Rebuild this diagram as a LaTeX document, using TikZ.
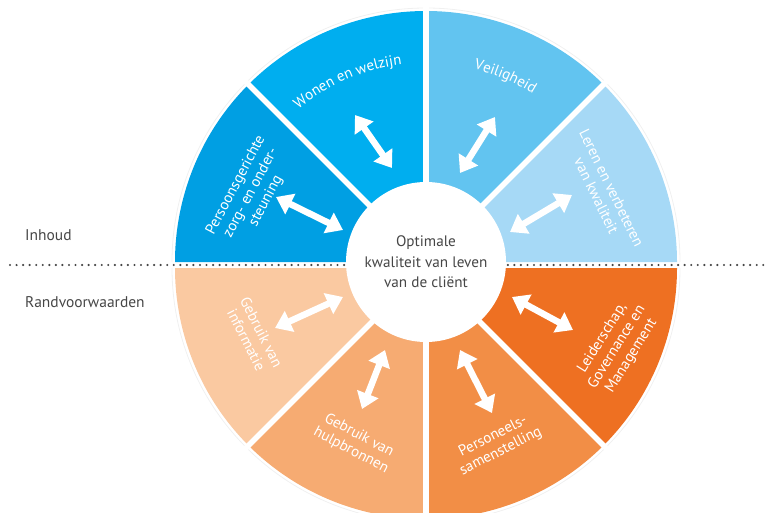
\documentclass[tikz,border=0pt]{standalone}
\usepackage{fontspec}
\setmainfont{PT Sans}
\usetikzlibrary{arrows.meta,decorations.text}
\definecolor{cLeren}{RGB}{166,217,246}
\definecolor{cVeilig}{RGB}{98,196,240}
\definecolor{cWonen}{RGB}{0,174,239}
\definecolor{cPersoon}{RGB}{0,159,227}
\definecolor{cInfo}{RGB}{250,201,161}
\definecolor{cHulp}{RGB}{246,171,114}
\definecolor{cPers}{RGB}{242,142,70}
\definecolor{cLeider}{RGB}{238,112,34}
\definecolor{textgray}{RGB}{70,70,70}
\begin{document}
\begin{tikzpicture}[x=1pt,y=1pt,
  lbl/.style={text=white,font=\fontsize{15}{17}\selectfont,align=center,inner sep=0pt},
  dbl/.style={white,line width=6.5pt,{Triangle[width=22pt,length=16pt]}-{Triangle[width=22pt,length=16pt]}},
  gapline/.style={white,line width=5.5pt},
  side/.style={text=textgray,font=\fontsize{15.5}{18}\selectfont,anchor=base west,inner sep=0pt},
  dotline/.style={textgray,line width=2.4pt,line cap=round,dash pattern=on 0pt off 6.55pt}]
\useasboundingbox (0,0) rectangle (765,512);
\coordinate (T) at (426,250);
\coordinate (B) at (426,244);
% top half
\fill[cLeren]   (T) -- ([shift={(T)}]0:251)   arc[start angle=0,end angle=45,radius=251] -- cycle;
\fill[cVeilig]  (T) -- ([shift={(T)}]45:251)  arc[start angle=45,end angle=90,radius=251] -- cycle;
\fill[cWonen]   (T) -- ([shift={(T)}]90:251)  arc[start angle=90,end angle=135,radius=251] -- cycle;
\fill[cPersoon] (T) -- ([shift={(T)}]135:251) arc[start angle=135,end angle=180,radius=251] -- cycle;
% bottom half
\fill[cInfo]   (B) -- ([shift={(B)}]180:251) arc[start angle=180,end angle=225,radius=251] -- cycle;
\fill[cHulp]   (B) -- ([shift={(B)}]225:251) arc[start angle=225,end angle=270,radius=251] -- cycle;
\fill[cPers]   (B) -- ([shift={(B)}]270:251) arc[start angle=270,end angle=315,radius=251] -- cycle;
\fill[cLeider] (B) -- ([shift={(B)}]315:251) arc[start angle=315,end angle=360,radius=251] -- cycle;
% faint outer ring
\draw[black!6,line width=0.8pt] ([shift={(T)}]0:254) arc[start angle=0,end angle=180,radius=254];
\draw[black!6,line width=0.8pt] ([shift={(B)}]180:254) arc[start angle=180,end angle=360,radius=254];
% gaps
\draw[gapline] (T) -- ++(45:260);
\draw[gapline] (T) -- ++(90:260);
\draw[gapline] (T) -- ++(135:260);
\draw[gapline] (B) -- ++(225:260);
\draw[gapline] (B) -- ++(270:260);
\draw[gapline] (B) -- ++(315:260);
% dotted separator
\coordinate (dl) at (10,247);
\coordinate (dr) at (765,247);
\draw[dotline] (dl) -- (dr);
% hub
\node[circle,fill=white,minimum size=160pt,inner sep=0pt,text=textgray,align=center,
  font=\fontsize{15.2}{20.5}\selectfont] (hub) at (426,250) {Optimale\\kwaliteit van leven\\van de cliënt};
% side labels
\node[side] (inhoud) at (25,272) {Inhoud};
\node[side] (rand) at (25,205) {Randvoorwaarden};
% curved labels
\path[decorate,decoration={text along path,text align=center,
  text={|\fontsize{15}{17}\selectfont\color{white}|Wonen en welzijn}}]
  ([shift={(T)}]148.4:199) arc[start angle=148.4,end angle=78.4,radius=199];
\path[decorate,decoration={text along path,text align=center,
  text={|\fontsize{15}{17}\selectfont\color{white}|Veiligheid}}]
  ([shift={(T)}]101.8:199) arc[start angle=101.8,end angle=31.8,radius=199];
% rotated labels
\node[lbl,rotate=62]  (lpers) at (251,319) {Persoonsgerichte\\zorg- en onder-\\steuning};
\node[lbl,rotate=-64] (lleren) at (604,320) {Leren en verbeteren\\van kwaliteit};
\node[lbl,rotate=-63] (linfo) at (254,176) {Gebruik van\\informatie};
\node[lbl,rotate=-28] (lhulp) at (355,69) {Gebruik van\\hulpbronnen};
\node[lbl,rotate=27]  (lperso) at (497,68) {Personeels-\\samenstelling};
\node[lbl,rotate=58]  (lleider) at (617,165) {Leiderschap,\\Governance en\\Management};
% arrows
\coordinate (a1s) at (355,397); \coordinate (a1e) at (392,344);
\coordinate (a2s) at (276,315); \coordinate (a2e) at (343,282);
\coordinate (a3s) at (495,395); \coordinate (a3e) at (460,339);
\coordinate (a4s) at (572,317); \coordinate (a4e) at (510,280);
\coordinate (a5s) at (343,215); \coordinate (a5e) at (275,184);
\coordinate (a6s) at (385,162); \coordinate (a6e) at (362,103);
\coordinate (a7s) at (460,162); \coordinate (a7e) at (492,99);
\coordinate (a8s) at (512,215); \coordinate (a8e) at (573,182);
\draw[dbl] (a1s) -- (a1e);
\draw[dbl] (a2s) -- (a2e);
\draw[dbl] (a3s) -- (a3e);
\draw[dbl] (a4s) -- (a4e);
\draw[dbl] (a5s) -- (a5e);
\draw[dbl] (a6s) -- (a6e);
\draw[dbl] (a7s) -- (a7e);
\draw[dbl] (a8s) -- (a8e);
\end{tikzpicture}
\end{document}
